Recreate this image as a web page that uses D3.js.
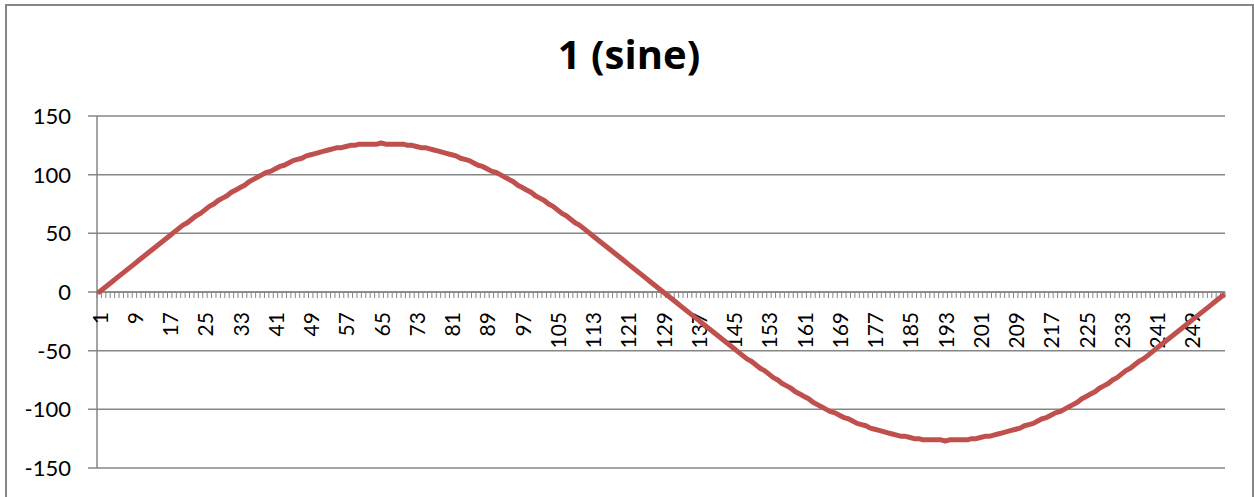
<!DOCTYPE html>
<html>
<head>
<meta charset="utf-8">
<script src="https://cdn.jsdelivr.net/npm/d3@7"></script>
<style>
  html, body { margin: 0; padding: 0; background: #fff; }
  svg { display: block; font-family: Lato, "Open Sans", sans-serif; }
</style>
</head>
<body>
<div id="chart"></div>
<script>
// chart text
var TITLE = '1 (sine)';
var Y_TICKS = [150, 100, 50, 0, -50, -100, -150];

// series values, one per category (1..256)
var VALUES = [
  0, 3, 6, 9, 12, 15, 18, 21, 24, 27,
  30, 33, 36, 39, 42, 45, 48, 51, 54, 57,
  59, 62, 65, 67, 70, 73, 75, 78, 80, 82,
  85, 87, 89, 91, 94, 96, 98, 100, 102, 103,
  105, 107, 108, 110, 112, 113, 114, 116, 117, 118,
  119, 120, 121, 122, 123, 123, 124, 125, 125, 126,
  126, 126, 126, 126, 127, 126, 126, 126, 126, 126,
  125, 125, 124, 123, 123, 122, 121, 120, 119, 118,
  117, 116, 114, 113, 112, 110, 108, 107, 105, 103,
  102, 100, 98, 96, 94, 91, 89, 87, 85, 82,
  80, 78, 75, 73, 70, 67, 65, 62, 59, 57,
  54, 51, 48, 45, 42, 39, 36, 33, 30, 27,
  24, 21, 18, 15, 12, 9, 6, 3, 0, -3,
  -6, -9, -12, -15, -18, -21, -24, -27, -30, -33,
  -36, -39, -42, -45, -48, -51, -54, -57, -59, -62,
  -65, -67, -70, -73, -75, -78, -80, -82, -85, -87,
  -89, -91, -94, -96, -98, -100, -102, -103, -105, -107,
  -108, -110, -112, -113, -114, -116, -117, -118, -119, -120,
  -121, -122, -123, -123, -124, -125, -125, -126, -126, -126,
  -126, -126, -127, -126, -126, -126, -126, -126, -125, -125,
  -124, -123, -123, -122, -121, -120, -119, -118, -117, -116,
  -114, -113, -112, -110, -108, -107, -105, -103, -102, -100,
  -98, -96, -94, -91, -89, -87, -85, -82, -80, -78,
  -75, -73, -70, -67, -65, -62, -59, -57, -54, -51,
  -48, -45, -42, -39, -36, -33, -30, -27, -24, -21,
  -18, -15, -12, -9, -6, -3
];

// category labels 1..256, every 8th one shown
var CATEGORIES = VALUES.map(function(v, i) { return String(i + 1); });
var SHOWN_LABELS = CATEGORIES.filter(function(c, i) { return i % 8 === 0; });

var W = 1254, H = 497;
var plot = { left: 97, right: 1225, top: 116, bottom: 468 };
var GRID = '#868686';
var LINE = '#C0504D';

var svg = d3.select('#chart').append('svg')
    .attr('width', W).attr('height', H);

// outer chart border
svg.append('rect')
    .attr('x', 6).attr('y', 5)
    .attr('width', 1247).attr('height', 500)
    .attr('fill', 'none')
    .attr('stroke', GRID).attr('stroke-width', 2);

// title
svg.append('text')
    .attr('x', 629).attr('y', 69)
    .attr('text-anchor', 'middle')
    .attr('font-family', '"Open Sans", Lato, sans-serif')
    .attr('font-size', '40px')
    .attr('font-weight', 'bold')
    .attr('fill', '#000')
    .text(TITLE);

var x = d3.scaleBand().domain(CATEGORIES).range([plot.left, plot.right]);
var xEdge = d3.scaleLinear().domain([0, CATEGORIES.length]).range([plot.left, plot.right]);
var y = d3.scaleLinear().domain([-150, 150]).range([plot.bottom, plot.top]);

// horizontal gridlines (with the outward major ticks)
svg.append('g').selectAll('line').data(Y_TICKS).enter().append('line')
    .attr('x1', plot.left - 9).attr('x2', plot.right)
    .attr('y1', function(d) { return y(d); })
    .attr('y2', function(d) { return y(d); })
    .attr('stroke', GRID).attr('stroke-width', 1.5);

// y labels
svg.append('g').selectAll('text').data(Y_TICKS).enter().append('text')
    .attr('x', 71)
    .attr('y', function(d) { return y(d); })
    .attr('dy', '0.36em')
    .attr('text-anchor', 'end')
    .attr('font-size', '22px')
    .attr('fill', '#000')
    .text(function(d) { return d; });

// value axis line
svg.append('line')
    .attr('x1', plot.left).attr('x2', plot.left)
    .attr('y1', plot.top).attr('y2', plot.bottom)
    .attr('stroke', GRID).attr('stroke-width', 1.5);

// category axis at zero, minor tick at each category boundary
var y0 = y(0);
svg.append('g').selectAll('line').data(d3.range(CATEGORIES.length + 1)).enter().append('line')
    .attr('x1', function(d) { return xEdge(d); })
    .attr('x2', function(d) { return xEdge(d); })
    .attr('y1', y0).attr('y2', y0 + 6)
    .attr('stroke', GRID).attr('stroke-width', 1);

svg.append('line')
    .attr('x1', plot.left).attr('x2', plot.right)
    .attr('y1', y0).attr('y2', y0)
    .attr('stroke', GRID).attr('stroke-width', 1.5);

// rotated category labels
svg.append('g').selectAll('text').data(SHOWN_LABELS).enter().append('text')
    .attr('transform', function(d) {
        return 'translate(' + (x(d) + x.bandwidth() / 2) + ',' + 312 + ') rotate(-90)';
    })
    .attr('text-anchor', 'end')
    .attr('dominant-baseline', 'central')
    .attr('font-size', '21px')
    .attr('fill', '#000')
    .text(function(d) { return d; });

// series line
var line = d3.line()
    .x(function(d, i) { return x(CATEGORIES[i]) + x.bandwidth() / 2; })
    .y(function(d) { return y(d); });

svg.append('path')
    .datum(VALUES)
    .attr('d', line)
    .attr('fill', 'none')
    .attr('stroke', LINE)
    .attr('stroke-width', 5)
    .attr('stroke-linejoin', 'round')
    .attr('stroke-linecap', 'round');
</script>
</body>
</html>
